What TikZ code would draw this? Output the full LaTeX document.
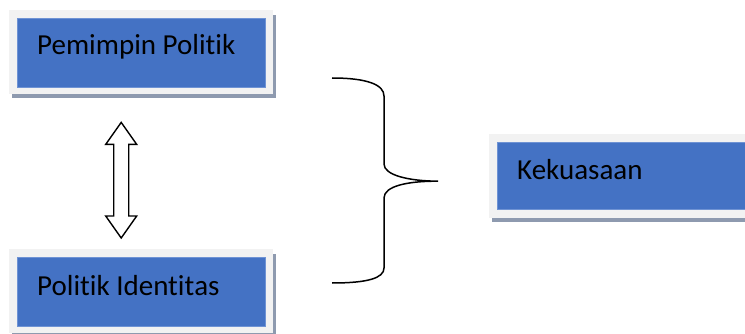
\documentclass[tikz,border=0pt]{standalone}
\usepackage{fontspec}
\setmainfont[RawFeature={-liga;-clig;-dlig;-calt}]{Carlito}
\usetikzlibrary{calc}
\definecolor{framegray}{HTML}{F2F2F2}
\definecolor{shadowgray}{HTML}{8E9AAF}
\definecolor{boxblue}{HTML}{4472C4}
\definecolor{edgeblue}{HTML}{6F93D4}
% keep "t" and "i" apart instead of joining them into one glyph
\newcommand{\tsep}{\kern0pt }
\tikzset{
  frame/.style={fill=framegray, draw=none, inner sep=0, anchor=north west,
                minimum width=264pt, minimum height=84pt},
  shade box/.style={fill=shadowgray, draw=none, inner sep=0, anchor=north west,
                minimum width=264pt, minimum height=83pt},
  panel/.style={fill=boxblue, draw=edgeblue, line width=0.7pt, inner sep=0,
                anchor=north west, minimum width=248pt, minimum height=69pt},
  label/.style={anchor=base west, inner sep=0, font=\fontsize{29}{33}\selectfont},
  outline/.style={draw=black, line width=1.4pt, line join=miter}
}
\begin{document}
\begin{tikzpicture}[x=1pt, y=-1pt]
  \useasboundingbox (0,0) rectangle (745,334);
  \clip (0,0) rectangle (745,334);

  % upper box: Pemimpin Politik
  \node[shade box] (s1) at (12,15) {};
  \node[frame] (f1) at (9,10) {};
  \node[panel] (b1) at (17,18) {};
  \node[label] (t1) at (37,55) {Pemimpin Polit\tsep ik};

  % lower box: Politik Identitas
  \node[shade box] (s2) at (12,254) {};
  \node[frame] (f2) at (9,249) {};
  \node[panel] (b2) at (17,257) {};
  \node[label] (t2) at (37,295) {Polit\tsep ik Ident\tsep it\tsep as};

  % right box: Kekuasaan
  \node[shade box, minimum width=300pt] (s3) at (492,139) {};
  \node[frame, minimum width=300pt] (f3) at (489,134) {};
  \node[panel, minimum width=280pt, minimum height=67pt] (b3) at (497,142) {};
  \node[label] (t3) at (517,180) {Kekuasaan};

  % hollow double arrow between the two left boxes
  \coordinate (up) at ($(f1.south)+(-20,28)$);
  \coordinate (dn) at ($(f2.north)+(-20,-11)$);
  \draw[outline, fill=white]
    (up) -- ++(15.5,22) -- ++(-8,0) |- ($(dn)+(7.5,-22)$)
    -- ++(8,0) -- (dn) -- ++(-15.5,-22) -- ++(8,0)
    |- ($(up)+(-7.5,22)$) -- ++(-8,0) -- cycle;

  % curly brace gathering both boxes toward the right box
  \coordinate (bt) at (332,78);
  \coordinate (bb) at (332,283);
  \coordinate (tip) at ($(f3.west)+(-51,5)$);
  \draw[black, line width=1.5pt]
    (bt) .. controls (368,78) and (384,85) .. (384,96)
    -- (384,164) .. controls (384,175) and (408,181) .. (tip)
    .. controls (408,181) and (384,186) .. (384,198)
    -- (384,268) .. controls (384,278) and (368,283) .. (bb);
\end{tikzpicture}
\end{document}
